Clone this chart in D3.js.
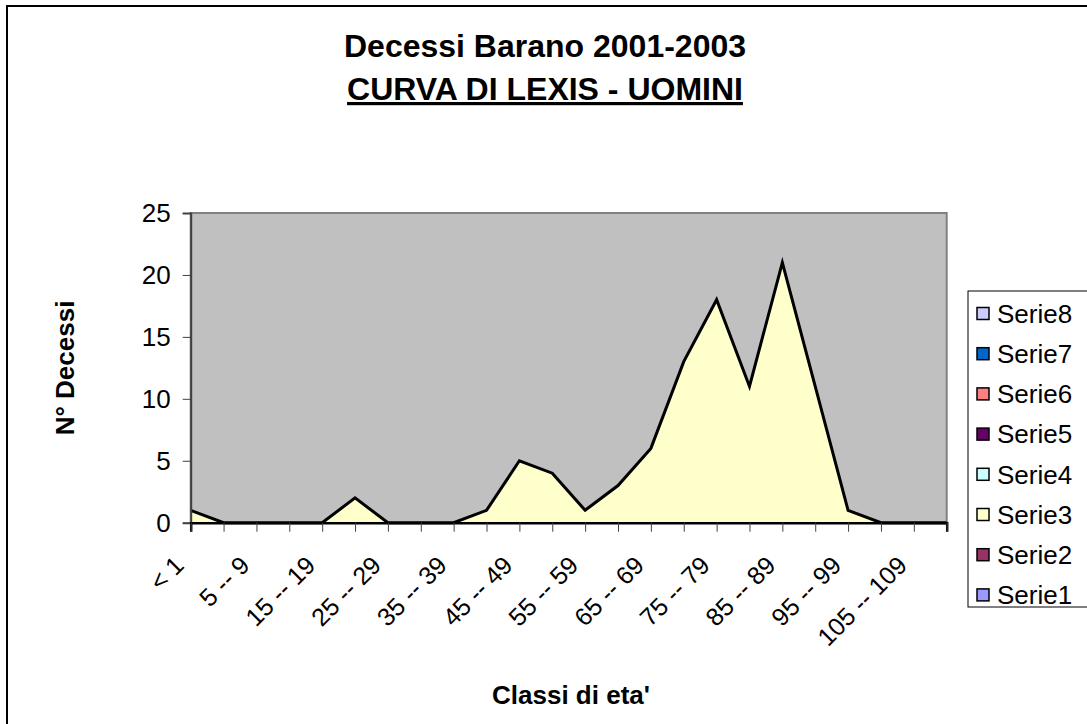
<!DOCTYPE html>
<html>
<head>
<meta charset="utf-8">
<script src="https://cdn.jsdelivr.net/npm/d3@7"></script>
<style>
  body { margin: 0; background: #fff; }
  text { font-family: "Liberation Sans", Arial, sans-serif; }
</style>
</head>
<body>
<svg id="chart" width="1087" height="724"></svg>
<script>
// age classes (labels shown on every other tick)
const classes = ["< 1", "1 -- 4", "5 -- 9", "10 -- 14", "15 -- 19", "20 -- 24", "25 -- 29", "30 -- 34",
  "35 -- 39", "40 -- 44", "45 -- 49", "50 -- 54", "55 -- 59", "60 -- 64", "65 -- 69", "70 -- 74",
  "75 -- 79", "80 -- 84", "85 -- 89", "90 -- 94", "95 -- 99", "100 -- 104", "105 -- 109", "110 +"];
const serie3 = [1, 0, 0, 0, 0, 2, 0, 0, 0, 1, 5, 4, 1, 3, 6, 13, 18, 11, 21, 11, 1, 0, 0, 0];
const yTicks = [0, 5, 10, 15, 20, 25];
const legendNames = ["Serie8", "Serie7", "Serie6", "Serie5", "Serie4", "Serie3", "Serie2", "Serie1"];
const legendColors = ["#CCCCFF", "#0066CC", "#FF8080", "#660066", "#CCFFFF", "#FFFFCC", "#993366", "#9999FF"];

const svg = d3.select("#chart");
const plot = {left: 190.7, right: 946.7, top: 213, bottom: 522.7};
const font = "'Liberation Sans', Arial, sans-serif";

// chart frame
svg.append("rect").attr("x", 7).attr("y", 6).attr("width", 1100).attr("height", 740)
  .attr("fill", "#fff").attr("stroke", "#000").attr("stroke-width", 2);

const x = d3.scalePoint().domain(classes).range([plot.left, plot.right]);
const y = d3.scaleLinear().domain([0, 25]).range([plot.bottom, plot.top]);

// plot area
svg.append("rect").attr("x", plot.left).attr("y", plot.top)
  .attr("width", plot.right - plot.left).attr("height", plot.bottom - plot.top)
  .attr("fill", "#C0C0C0").attr("stroke", "#808080").attr("stroke-width", 2);

const data = classes.map((c, i) => ({c: c, v: serie3[i]}));
svg.append("path").datum(data).attr("fill", "#FFFFCC")
  .attr("d", d3.area().x(d => x(d.c)).y0(y(0)).y1(d => y(d.v)));
svg.append("path").datum(data).attr("fill", "none").attr("stroke", "#000").attr("stroke-width", 3)
  .attr("d", d3.line().x(d => x(d.c)).y(d => y(d.v)));

// y axis
const yAx = svg.append("g").attr("transform", `translate(${plot.left},0)`)
  .call(d3.axisLeft(y).tickValues(yTicks).tickSize(8).tickPadding(12));
yAx.select(".domain").attr("stroke", "#404040").attr("stroke-width", 2);
yAx.selectAll(".tick line").attr("stroke", "#404040");
yAx.selectAll("text").attr("font-size", 26).attr("fill", "#000").style("font-family", font);

// x axis
const xAx = svg.append("g").attr("transform", `translate(0,${plot.bottom})`)
  .call(d3.axisBottom(x).tickSize(9).tickFormat((d, i) => i % 2 === 0 ? d : ""));
xAx.select(".domain").attr("stroke", "#000").attr("stroke-width", 2.5);
xAx.selectAll(".tick line").attr("stroke", "#404040");
xAx.selectAll("text").attr("font-size", 25).attr("fill", "#000").style("font-family", font)
  .attr("y", null).attr("dy", ".35em").attr("text-anchor", "end")
  .attr("transform", "translate(-12,38) rotate(-45)");

// titles
svg.append("text").attr("x", 545).attr("y", 57).attr("text-anchor", "middle")
  .attr("font-size", 32).attr("font-weight", "bold").text("Decessi Barano 2001-2003");
svg.append("text").attr("x", 545).attr("y", 100).attr("text-anchor", "middle")
  .attr("font-size", 32).attr("font-weight", "bold").style("text-decoration", "underline")
  .text("CURVA DI LEXIS - UOMINI");
svg.append("text").attr("x", 571).attr("y", 704).attr("text-anchor", "middle")
  .attr("font-size", 26).attr("font-weight", "bold").text("Classi di eta'");
svg.append("text").attr("transform", "translate(74,368) rotate(-90)").attr("text-anchor", "middle")
  .attr("font-size", 26).attr("font-weight", "bold").text("N° Decessi");

// legend
const lg = svg.append("g");
lg.append("rect").attr("x", 968).attr("y", 291).attr("width", 130).attr("height", 316)
  .attr("fill", "#fff").attr("stroke", "#000").attr("stroke-width", 1);
legendNames.forEach((n, i) => {
  const cy = 313.5 + i * 40.2;
  lg.append("rect").attr("x", 977).attr("y", cy - 6).attr("width", 12).attr("height", 12)
    .attr("fill", legendColors[i]).attr("stroke", "#000").attr("stroke-width", 1.5);
  lg.append("text").attr("x", 997).attr("y", cy).attr("dy", ".36em")
    .attr("font-size", 26).text(n);
});
</script>
</body>
</html>
